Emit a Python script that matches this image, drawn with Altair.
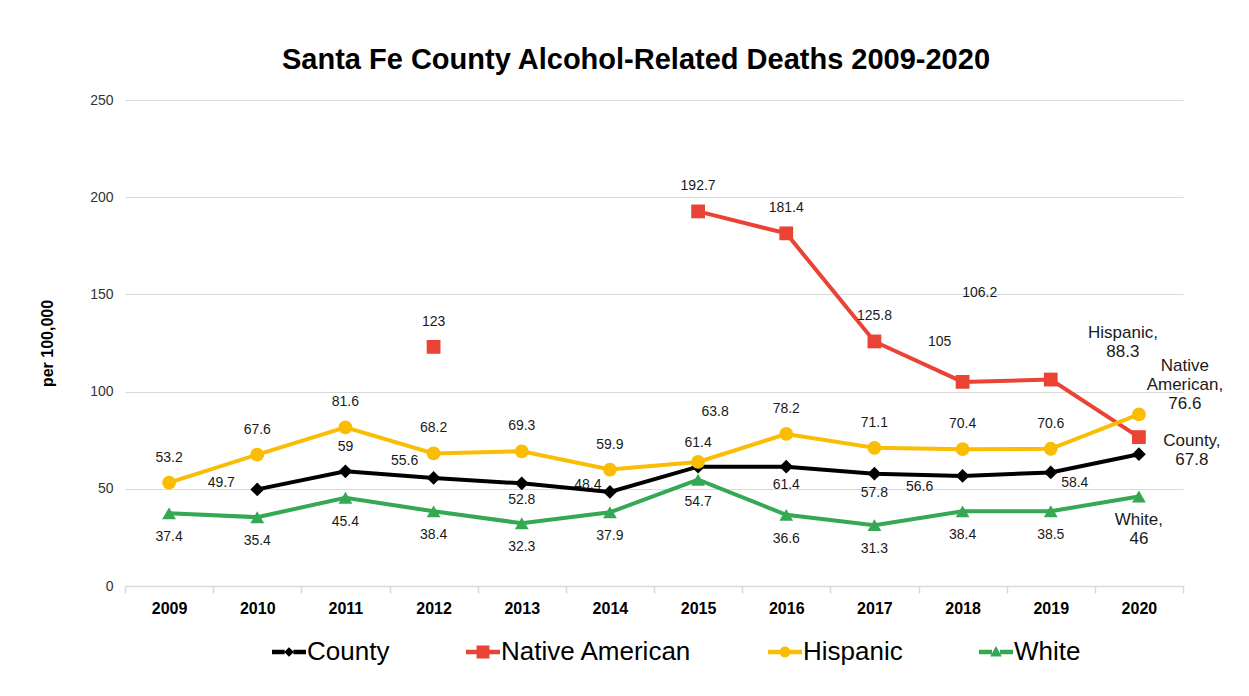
import altair as alt
import pandas as pd

years = ["2009", "2010", "2011", "2012", "2013", "2014", "2015", "2016", "2017", "2018", "2019", "2020"]
series_names = ["County", "Native American", "Hispanic", "White"]
county = [None, 49.7, 59, 55.6, 52.8, 48.4, 61.4, 61.4, 57.8, 56.6, 58.4, 67.8]
native_american = [None, None, None, 123, None, None, 192.7, 181.4, 125.8, 105, 106.2, 76.6]
hispanic = [53.2, 67.6, 81.6, 68.2, 69.3, 59.9, 63.8, 78.2, 71.1, 70.4, 70.6, 88.3]
white = [37.4, 35.4, 45.4, 38.4, 32.3, 37.9, 54.7, 36.6, 31.3, 38.4, 38.5, 46]
end_names = ["County,", "Native\nAmerican,", "Hispanic,", "White,"]

colors = ["#000000", "#EA4335", "#FBBC04", "#34A853"]
shapes = ["diamond", "square", "circle", "triangle-up"]

# label placement (pixel offsets), styling only
default_offset = {"County": (0, -24), "Native American": (0, -25),
                  "Hispanic": (0, -25), "White": (0, 24)}
special_offset = {
    ("County", "2010"): (-36, -6), ("County", "2012"): (-29, -17),
    ("County", "2013"): (0, 17), ("County", "2014"): (-22, -7),
    ("County", "2016"): (0, 18), ("County", "2017"): (0, 19),
    ("County", "2018"): (-43, 11), ("County", "2019"): (24, 11),
    ("County", "2020"): (53, -13),
    ("Native American", "2018"): (-23, -40), ("Native American", "2019"): (-71, -87),
    ("Native American", "2020"): (46, -71),
    ("Hispanic", "2015"): (17, -50), ("Hispanic", "2020"): (-16, -81),
    ("White", "2015"): (0, 22), ("White", "2020"): (0, 23),
}

FONT = "Liberation Sans"
values_by_series = [county, native_american, hispanic, white]

rows = []
labels = []
for si, (name, vals) in enumerate(zip(series_names, values_by_series)):
    run = 0
    prev_none = True
    for yi, v in enumerate(vals):
        if v is None:
            prev_none = True
            continue
        if prev_none:
            run += 1
        prev_none = False
        rows.append({"year": years[yi], "value": v, "series": name,
                     "seg": f"{name}-{run}", "order": si})
        last = yi == len(years) - 1
        txt = f"{end_names[si]}\n{v:g}" if last else f"{v:g}"
        dx, dy = special_offset.get((name, years[yi]), default_offset[name])
        labels.append({"year": years[yi], "value": v, "label": txt,
                       "dx": dx, "dy": dy, "big": last})

df = pd.DataFrame(rows)
ldf = pd.DataFrame(labels)

x_enc = alt.X("year:N", scale=alt.Scale(type="band", domain=years, paddingInner=0, paddingOuter=0),
              bandPosition=0.5,
              axis=alt.Axis(title=None, labelFont=FONT, labelFontSize=16, labelFontWeight="bold",
                            labelColor="#000000", labelAngle=0, domainColor="#d9d9d9",
                            domainWidth=1.5, tickColor="#d9d9d9", tickWidth=1.5, tickSize=7,
                            tickBand="extent", labelPadding=7, grid=False))
y_enc = alt.Y("value:Q", scale=alt.Scale(domain=[0, 250], nice=False),
              axis=alt.Axis(title="per 100,000", values=[0, 50, 100, 150, 200, 250],
                            titleFont=FONT, titleFontSize=16, titleFontWeight="bold",
                            titleColor="#000000", titlePadding=34,
                            labelFont=FONT, labelFontSize=14, labelColor="#333333",
                            labelPadding=12, ticks=False, domain=False,
                            gridColor="#d9d9d9", gridWidth=1))

base = alt.Chart(df)

lines = base.mark_line(strokeWidth=4).encode(
    x=x_enc, y=y_enc,
    color=alt.Color("series:N", scale=alt.Scale(domain=series_names, range=colors), legend=None),
    detail="seg:N",
)

points = base.mark_point(filled=True, size=190, opacity=1).encode(
    x=x_enc, y=y_enc,
    color=alt.Color("series:N", scale=alt.Scale(domain=series_names, range=colors), legend=None),
    shape=alt.Shape("series:N", scale=alt.Scale(domain=series_names, range=shapes), legend=None),
    order="order:Q",
)


def bars(w):
    return f"M-4.25,-0.55H-{w}V0.55H-4.25ZM{w},-0.55H4.25V0.55H{w}Z"


# legend symbols: line + marker + line
legend_shapes = [
    bars(1.1) + "M0,-1.2L1.2,0L0,1.2L-1.2,0Z",
    bars(1.5) + "M-1.6,-1.6H1.6V1.6H-1.6Z",
    bars(1.25) + "M-1.35,0A1.35,1.35,0,1,1,1.35,0A1.35,1.35,0,1,1,-1.35,0Z",
    bars(1.0) + "M0,-1.5L1.45,1.1H-1.45Z",
]
legend_props = dict(title=None, orient="none", legendX=151, legendY=539, direction="horizontal",
                    labelFont=FONT, labelFontSize=26, labelColor="#000000", labelOffset=5,
                    labelLimit=0, columnPadding=76, symbolSize=64, symbolStrokeWidth=0, padding=0)
legend_layer = base.transform_filter("false").mark_point(filled=True, opacity=1).encode(
    x=x_enc, y=y_enc,
    color=alt.Color("series:N", scale=alt.Scale(domain=series_names, range=colors),
                    legend=alt.Legend(**legend_props)),
    shape=alt.Shape("series:N", scale=alt.Scale(domain=series_names, range=legend_shapes),
                    legend=alt.Legend(**legend_props)),
)

text_layers = []
for (dx, dy, big), grp in ldf.groupby(["dx", "dy", "big"]):
    text_layers.append(
        alt.Chart(grp.drop(columns=["dx", "dy", "big"])).mark_text(
            font=FONT, fontSize=17 if big else 14, color="#1a1a1a", dx=int(dx), dy=int(dy),
            align="center", baseline="middle", lineBreak="\n", lineHeight=19,
        ).encode(x=x_enc, y=y_enc, text="label:N")
    )

chart = alt.layer(lines, points, legend_layer, *text_layers).resolve_scale(
    color="independent", shape="independent"
).properties(
    width=1058, height=486,
    title=alt.TitleParams("Santa Fe County Alcohol-Related Deaths 2009-2020", font=FONT,
                          fontSize=29, fontWeight="bold", color="#000000", anchor="middle",
                          frame="group", dx=-18, offset=-5, baseline="alphabetic"),
    autosize=alt.AutoSizeParams(type="none"),
    padding={"left": 125, "top": 100, "right": 66, "bottom": 110},
    background="#ffffff",
).configure_view(stroke=None)

chart.save("out.html", embed_options={"renderer": "svg", "actions": False})
